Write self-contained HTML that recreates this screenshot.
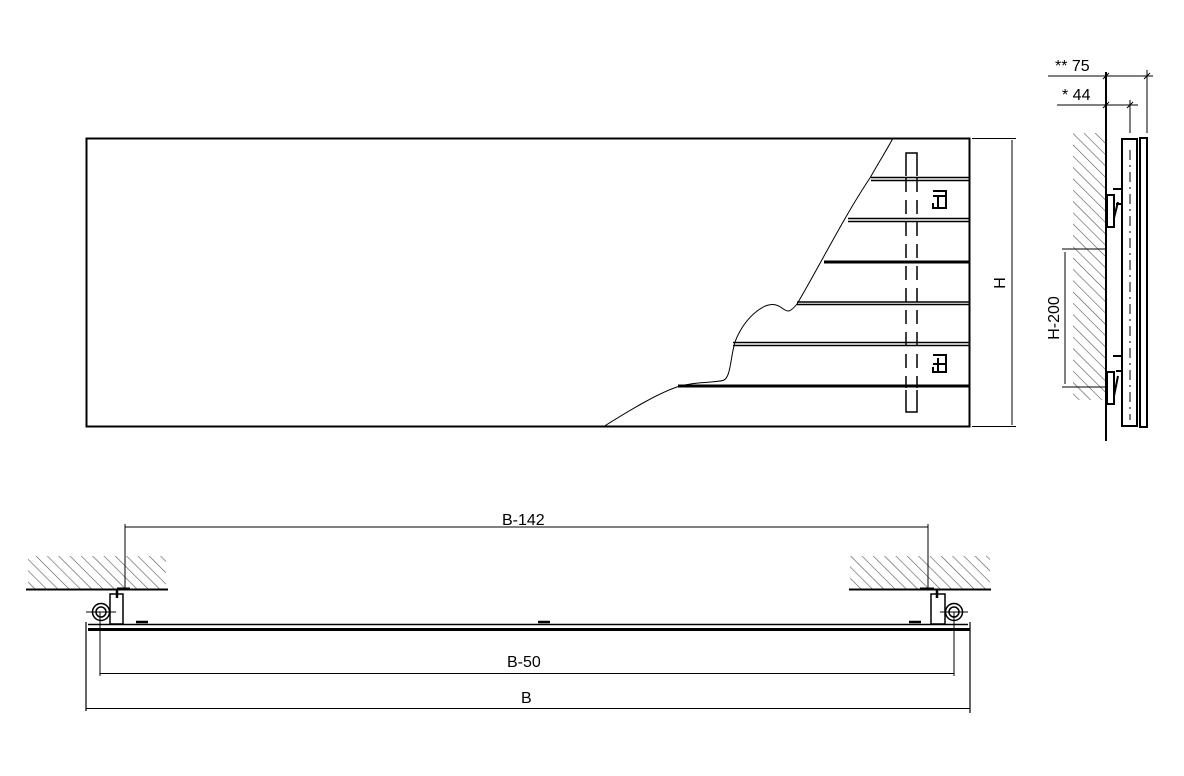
<!DOCTYPE html>
<html><head><meta charset="utf-8"><style>
html,body{margin:0;padding:0;background:#fff;}
svg{display:block;}
text{font-family:"Liberation Sans",sans-serif;font-size:16px;fill:#000;}
</style></head><body>
<svg width="1184" height="776" viewBox="0 0 1184 776" xmlns="http://www.w3.org/2000/svg">
<defs>
<pattern id="h" width="8" height="8" patternUnits="userSpaceOnUse" patternTransform="rotate(-45)">
<line x1="0" y1="0" x2="0" y2="8" stroke="#555" stroke-width="1.2"/>
</pattern>
</defs>
<g fill="none" stroke="#000">
<!-- front view -->
<rect x="86.5" y="138.5" width="883" height="288" stroke-width="2"/>
<path d="M603,427 C630,410 660,392 680,386 C700,381 718,383 724,380 C732,376 730,350 738,335 C748,315 765,302 776,305 C785,307 786,318 797,304 C820,265 845,215 870,178 C880,160 888,148 893,138" stroke-width="1"/>
<g stroke-width="1.5">
<line x1="871" y1="177.5" x2="969" y2="177.5"/><line x1="871" y1="180.5" x2="969" y2="180.5"/>
<line x1="848" y1="218.5" x2="969" y2="218.5"/><line x1="848" y1="221.5" x2="969" y2="221.5"/>
<line x1="733" y1="342.5" x2="969" y2="342.5"/><line x1="733" y1="345.5" x2="969" y2="345.5"/>
<line x1="797" y1="302" x2="969" y2="302"/><line x1="797" y1="304.5" x2="969" y2="304.5"/>
</g>
<line x1="824" y1="262" x2="969" y2="262" stroke-width="3"/>
<line x1="678" y1="386" x2="969" y2="386" stroke-width="3"/>
<path d="M906,176 V153 H917 V176 M906,390 V412 H917 V390" stroke-width="1.5"/>
<g stroke-width="1.5" stroke-dasharray="14,8">
<line x1="906" y1="178" x2="906" y2="388"/><line x1="917" y1="178" x2="917" y2="388"/>
</g>
<path d="M933,191 h13 v17 h-13 v-5 M933,196 h13 M938,196 v12" stroke-width="2"/>
<path d="M933,355 h13 v17 h-13 v-5 M933,364 h13 M938,358 v14" stroke-width="2"/>
<line x1="972" y1="138.5" x2="1016" y2="138.5" stroke-width="1"/>
<line x1="972" y1="426.5" x2="1016" y2="426.5" stroke-width="1"/>
<line x1="1012" y1="140" x2="1012" y2="425" stroke-width="1"/>

<!-- side view -->
<rect x="1073" y="133" width="32" height="267" fill="url(#h)" stroke="none"/>
<line x1="1106" y1="72" x2="1106" y2="441" stroke-width="2"/>
<line x1="1048" y1="76" x2="1153" y2="76" stroke-width="1"/>
<line x1="1057" y1="105" x2="1138" y2="105" stroke-width="1"/>
<line x1="1130" y1="100" x2="1130" y2="133" stroke-width="1"/>
<line x1="1147" y1="70" x2="1147" y2="133" stroke-width="1"/>
<line x1="1103" y1="79" x2="1109" y2="73" stroke-width="1"/><line x1="1144" y1="79" x2="1150" y2="73" stroke-width="1"/>
<line x1="1103" y1="108" x2="1109" y2="102" stroke-width="1"/><line x1="1127" y1="108" x2="1133" y2="102" stroke-width="1"/>
<rect x="1122" y="139" width="15" height="287" stroke-width="2"/>
<rect x="1140" y="138" width="7" height="289" stroke-width="2"/>
<line x1="1130" y1="150" x2="1130" y2="420" stroke-width="1" stroke-dasharray="10,5,2,5"/>
<path d="M1107,195 h7 v32 h-7 z M1113,189 h9 v15 h-6 M1114,218 l4,-16" stroke-width="2"/>
<path d="M1107,372 h7 v32 h-7 z M1113,356 h9 v15 h-6 M1114,396 l4,-20" stroke-width="2"/>
<line x1="1062" y1="249" x2="1106" y2="249" stroke-width="1"/>
<line x1="1062" y1="387" x2="1106" y2="387" stroke-width="1"/>
<line x1="1065" y1="252" x2="1065" y2="384" stroke-width="1"/>

<!-- bottom view -->
<rect x="28" y="556" width="138" height="33" fill="url(#h)" stroke="none"/>
<rect x="850" y="556" width="140" height="33" fill="url(#h)" stroke="none"/>
<line x1="26" y1="589.5" x2="168" y2="589.5" stroke-width="2"/>
<line x1="849" y1="589.5" x2="991" y2="589.5" stroke-width="2"/>
<line x1="125" y1="524" x2="125" y2="590" stroke-width="1"/>
<line x1="928" y1="524" x2="928" y2="590" stroke-width="1"/>
<line x1="125" y1="527" x2="928" y2="527" stroke-width="1"/>
<rect x="110" y="594" width="13" height="30" stroke-width="1.5"/>
<rect x="931" y="594" width="14" height="30" stroke-width="1.5"/>
<line x1="117" y1="589" x2="130" y2="589" stroke-width="3"/><line x1="117" y1="590" x2="117" y2="598" stroke-width="2.5"/>
<line x1="920" y1="589" x2="934" y2="589" stroke-width="3"/><line x1="937" y1="590" x2="937" y2="598" stroke-width="2.5"/>
<circle cx="101" cy="612" r="8.5" stroke-width="1.5"/><circle cx="101" cy="612" r="5" stroke-width="1.5"/>
<circle cx="954" cy="612" r="8.5" stroke-width="1.5"/><circle cx="954" cy="612" r="5" stroke-width="1.5"/>
<line x1="86" y1="612" x2="116" y2="612" stroke-width="1"/>
<line x1="940" y1="612" x2="968" y2="612" stroke-width="1"/>
<line x1="88" y1="624.5" x2="968" y2="624.5" stroke-width="1.5"/>
<line x1="88" y1="629.5" x2="970" y2="629.5" stroke-width="3"/>
<line x1="136" y1="622" x2="148" y2="622" stroke-width="2.5"/>
<line x1="538" y1="622" x2="550" y2="622" stroke-width="2.5"/>
<line x1="909" y1="622" x2="921" y2="622" stroke-width="2.5"/>
<line x1="86" y1="622" x2="86" y2="711" stroke-width="1.2"/>
<line x1="970" y1="622" x2="970" y2="713" stroke-width="1.2"/>
<line x1="100" y1="612" x2="100" y2="676" stroke-width="1"/>
<line x1="954" y1="612" x2="954" y2="676" stroke-width="1"/>
<line x1="100" y1="673.5" x2="954" y2="673.5" stroke-width="1"/>
<line x1="86" y1="708.5" x2="970" y2="708.5" stroke-width="1"/>
</g>
<text x="502" y="525">B-142</text>
<text x="507" y="667">B-50</text>
<text x="521" y="703">B</text>
<text x="1055" y="71">** 75</text>
<text x="1062" y="100">* 44</text>
<text transform="translate(1005,283) rotate(-90)" text-anchor="middle">H</text>
<text transform="translate(1059,318) rotate(-90)" text-anchor="middle">H-200</text>
</svg>
</body></html>
